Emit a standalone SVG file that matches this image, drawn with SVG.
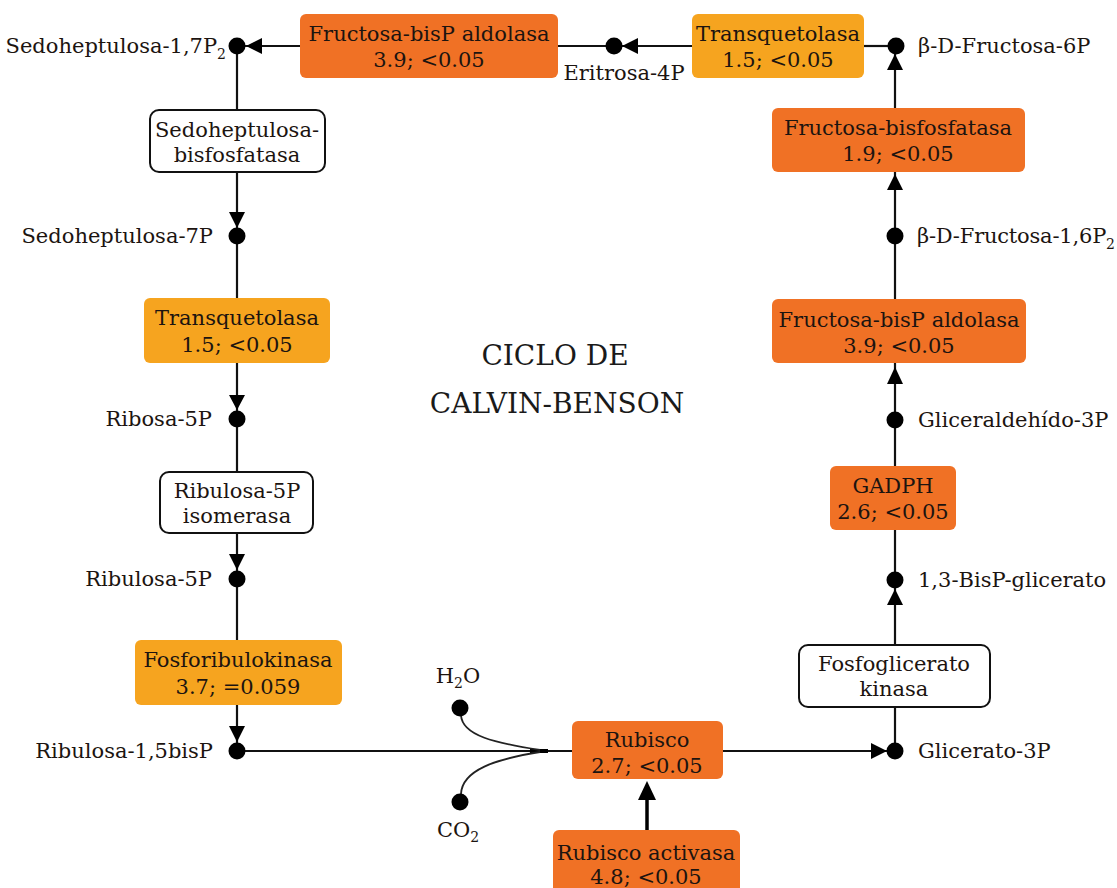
<svg xmlns="http://www.w3.org/2000/svg" width="1117" height="888" viewBox="0 0 1117 888">
  <style>
    text { font-family: "DejaVu Serif", "Liberation Serif", serif; font-size: 21px; fill: #1c1410; }
    .mid { text-anchor: middle; }
    .end { text-anchor: end; }
    .sub { font-size: 14px; }
    .title { font-size: 28px; fill: #1a1a1a; }
    .enz-dark { fill: #F07125; }
    .enz-light { fill: #F6A41F; }
    .enz-plain { fill: #ffffff; stroke: #111; stroke-width: 2; }
    .link { stroke: #111; stroke-width: 2.2; fill: none; }
    .feed { stroke: #222; stroke-width: 1.8; fill: none; }
    .dot { fill: #000; }
    .head { fill: #000; }
  </style>
  <rect width="1117" height="888" fill="#ffffff"/>

  <!-- connectors -->
  <g id="connectors">
    <!-- top row -->
    <line class="link" x1="237" y1="46" x2="300" y2="46"/>
    <polygon class="head" points="246,46 262,38 262,54"/>
    <line class="link" x1="558" y1="46" x2="692" y2="46"/>
    <polygon class="head" points="622,46 638,38 638,54"/>
    <line class="link" x1="864" y1="46" x2="896" y2="46"/>

    <!-- left column -->
    <line class="link" x1="237" y1="46" x2="237" y2="110"/>
    <line class="link" x1="237" y1="172" x2="237" y2="298"/>
    <polygon class="head" points="237,228 229,212 245,212"/>
    <line class="link" x1="237" y1="363" x2="237" y2="472"/>
    <polygon class="head" points="237,410 229,395 245,395"/>
    <line class="link" x1="237" y1="533" x2="237" y2="640"/>
    <polygon class="head" points="237,570 229,554 245,554"/>
    <line class="link" x1="237" y1="705" x2="237" y2="751"/>
    <polygon class="head" points="237,742 229,726 245,726"/>

    <!-- bottom row -->
    <line class="link" x1="237" y1="751" x2="572" y2="751"/>
    <line x1="530" y1="751" x2="548" y2="751" stroke="#000" stroke-width="4"/>
    <path class="feed" d="M461,715 C462,736 496,743 540,750"/>
    <path class="feed" d="M461,794 C462,770 496,759 540,752"/>
    <line class="link" x1="723" y1="751" x2="895" y2="751"/>
    <polygon class="head" points="887,751 871,743 871,759"/>
    <line x1="647" y1="830" x2="647" y2="796" stroke="#000" stroke-width="3.5"/>
    <polygon class="head" points="647,781 638,800 656,800"/>

    <!-- right column -->
    <line class="link" x1="895" y1="751" x2="895" y2="707"/>
    <line class="link" x1="895" y1="645" x2="895" y2="530"/>
    <polygon class="head" points="895,589 887,605 903,605"/>
    <line class="link" x1="895" y1="466" x2="895" y2="363"/>
    <polygon class="head" points="895,367 887,384 903,384"/>
    <line class="link" x1="895" y1="299" x2="895" y2="172"/>
    <polygon class="head" points="895,174 887,190 903,190"/>
    <line class="link" x1="895" y1="108" x2="895" y2="46"/>
    <polygon class="head" points="895,54 887,70 903,70"/>
  </g>

  <!-- metabolites -->
  <g id="m-sedoheptulosa-17p2">
    <circle class="dot" cx="237" cy="46" r="8.5"/>
    <text class="end" x="226" y="53">Sedoheptulosa-1,7P<tspan class="sub" dy="6">2</tspan></text>
  </g>
  <g id="m-eritrosa-4p">
    <circle class="dot" cx="614" cy="46" r="8.5"/>
    <text class="mid" x="624" y="80">Eritrosa-4P</text>
  </g>
  <g id="m-fructosa-6p">
    <circle class="dot" cx="896" cy="46" r="8.5"/>
    <text x="918" y="53">β-D-Fructosa-6P</text>
  </g>
  <g id="m-sedoheptulosa-7p">
    <circle class="dot" cx="237" cy="236" r="8.5"/>
    <text class="end" x="213" y="243">Sedoheptulosa-7P</text>
  </g>
  <g id="m-fructosa-16p2">
    <circle class="dot" cx="895" cy="236" r="8.5"/>
    <text x="917" y="243" font-size="20" letter-spacing="-0.2">β-D-Fructosa-1,6P<tspan class="sub" dy="6">2</tspan></text>
  </g>
  <g id="m-ribosa-5p">
    <circle class="dot" cx="237" cy="419" r="8.5"/>
    <text class="end" x="212" y="426">Ribosa-5P</text>
  </g>
  <g id="m-gliceraldehido-3p">
    <circle class="dot" cx="895" cy="420" r="8.5"/>
    <text x="918" y="427">Gliceraldehído-3P</text>
  </g>
  <g id="m-ribulosa-5p">
    <circle class="dot" cx="237" cy="579" r="8.5"/>
    <text class="end" x="212" y="586">Ribulosa-5P</text>
  </g>
  <g id="m-bisp-glicerato">
    <circle class="dot" cx="895" cy="580" r="8.5"/>
    <text x="918" y="587">1,3-BisP-glicerato</text>
  </g>
  <g id="m-ribulosa-15bisp">
    <circle class="dot" cx="237" cy="751" r="8.5"/>
    <text class="end" x="213" y="758">Ribulosa-1,5bisP</text>
  </g>
  <g id="m-glicerato-3p">
    <circle class="dot" cx="895" cy="751" r="8.5"/>
    <text x="918" y="758">Glicerato-3P</text>
  </g>
  <g id="m-h2o">
    <circle class="dot" cx="460" cy="708" r="8.5"/>
    <text class="mid" x="458" y="683">H<tspan class="sub" dy="5">2</tspan><tspan dy="-5">O</tspan></text>
  </g>
  <g id="m-co2">
    <circle class="dot" cx="460" cy="802" r="8.5"/>
    <text class="mid" x="458" y="837">CO<tspan class="sub" dy="5">2</tspan></text>
  </g>

  <!-- enzymes -->
  <g id="e-aldolasa-top">
    <rect class="enz-dark" x="300" y="14" width="258" height="64" rx="6"/>
    <text class="mid" x="429" y="41">Fructosa-bisP aldolasa</text>
    <text class="mid" x="429" y="67">3.9; &lt;0.05</text>
  </g>
  <g id="e-transquetolasa-top">
    <rect class="enz-light" x="692" y="14" width="172" height="64" rx="6"/>
    <text class="mid" x="778" y="41">Transquetolasa</text>
    <text class="mid" x="778" y="67">1.5; &lt;0.05</text>
  </g>
  <g id="e-fructosa-bisfosfatasa">
    <rect class="enz-dark" x="772" y="108" width="253" height="64" rx="6"/>
    <text class="mid" x="898" y="135">Fructosa-bisfosfatasa</text>
    <text class="mid" x="898" y="161">1.9; &lt;0.05</text>
  </g>
  <g id="e-aldolasa-right">
    <rect class="enz-dark" x="772" y="299" width="254" height="64" rx="6"/>
    <text class="mid" x="899" y="327">Fructosa-bisP aldolasa</text>
    <text class="mid" x="899" y="353">3.9; &lt;0.05</text>
  </g>
  <g id="e-gadph">
    <rect class="enz-dark" x="830" y="466" width="126" height="64" rx="6"/>
    <text class="mid" x="893" y="493">GADPH</text>
    <text class="mid" x="893" y="519">2.6; &lt;0.05</text>
  </g>
  <g id="e-fosfoglicerato-kinasa">
    <rect class="enz-plain" x="799" y="645" width="191" height="62" rx="9"/>
    <text class="mid" x="894" y="671">Fosfoglicerato</text>
    <text class="mid" x="894" y="696">kinasa</text>
  </g>
  <g id="e-rubisco">
    <rect class="enz-dark" x="572" y="721" width="151" height="58" rx="6"/>
    <text class="mid" x="647" y="747">Rubisco</text>
    <text class="mid" x="647" y="773">2.7; &lt;0.05</text>
  </g>
  <g id="e-rubisco-activasa">
    <rect class="enz-dark" x="553" y="830" width="187" height="70" rx="6"/>
    <text class="mid" x="646" y="860">Rubisco activasa</text>
    <text class="mid" x="646" y="884">4.8; &lt;0.05</text>
  </g>
  <g id="e-sedoheptulosa-bisfosfatasa">
    <rect class="enz-plain" x="150" y="110" width="175" height="62" rx="9"/>
    <text class="mid" x="237" y="137">Sedoheptulosa-</text>
    <text class="mid" x="237" y="162">bisfosfatasa</text>
  </g>
  <g id="e-transquetolasa-left">
    <rect class="enz-light" x="144" y="298" width="186" height="65" rx="6"/>
    <text class="mid" x="237" y="325">Transquetolasa</text>
    <text class="mid" x="237" y="352">1.5; &lt;0.05</text>
  </g>
  <g id="e-ribulosa-isomerasa">
    <rect class="enz-plain" x="160" y="472" width="153" height="61" rx="9"/>
    <text class="mid" x="237" y="498">Ribulosa-5P</text>
    <text class="mid" x="237" y="523">isomerasa</text>
  </g>
  <g id="e-fosforibulokinasa">
    <rect class="enz-light" x="135" y="640" width="207" height="65" rx="6"/>
    <text class="mid" x="238" y="667">Fosforibulokinasa</text>
    <text class="mid" x="238" y="694">3.7; =0.059</text>
  </g>

  <!-- cycle title -->
  <g id="title">
    <text class="mid title" x="555" y="365">CICLO DE</text>
    <text class="mid title" x="557" y="413">CALVIN-BENSON</text>
  </g>
</svg>
